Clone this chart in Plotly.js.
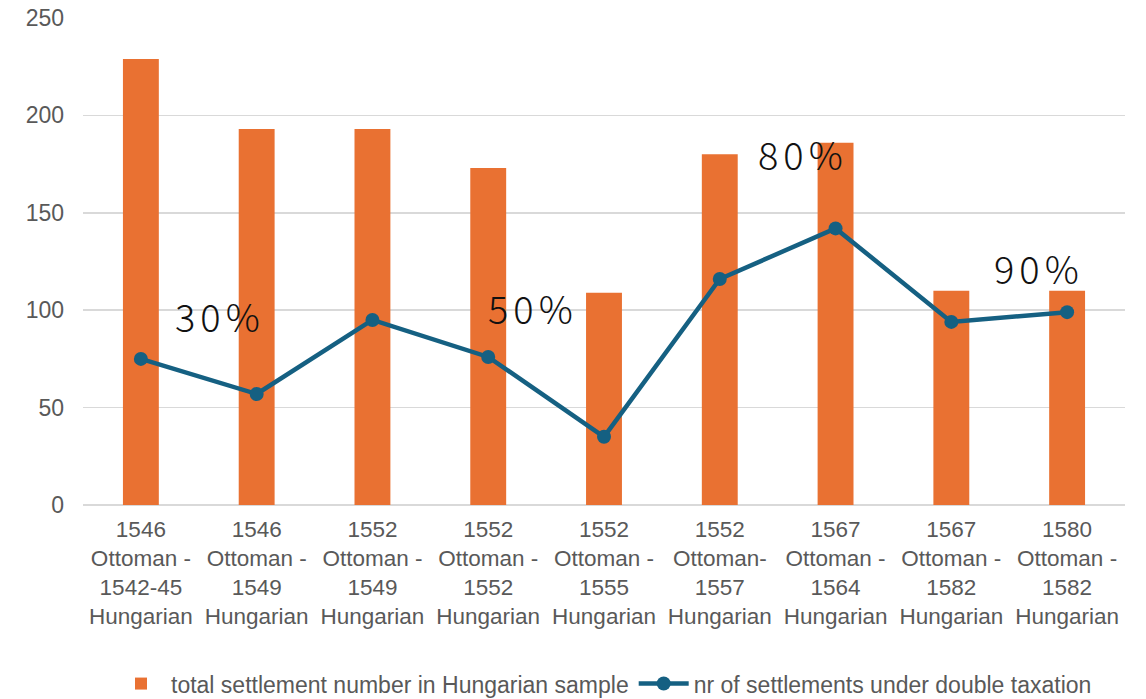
<!DOCTYPE html>
<html><head><meta charset="utf-8">
<script src="https://cdn.plot.ly/plotly-3.0.1.min.js"></script>
<style>body{margin:0;background:#fff}#c{width:1146px;height:699px}</style>
</head><body><div id="c"></div>
<script>
const categories = [
  "1546<br>Ottoman -<br>1542-45<br>Hungarian",
  "1546<br>Ottoman -<br>1549<br>Hungarian",
  "1552<br>Ottoman -<br>1549<br>Hungarian",
  "1552<br>Ottoman -<br>1552<br>Hungarian",
  "1552<br>Ottoman -<br>1555<br>Hungarian",
  "1552<br>Ottoman-<br>1557<br>Hungarian",
  "1567<br>Ottoman -<br>1564<br>Hungarian",
  "1567<br>Ottoman -<br>1582<br>Hungarian",
  "1580<br>Ottoman -<br>1582<br>Hungarian"
];
const totalSettlements = [229, 193, 193, 173, 109, 180, 186, 110, 110];
const doubleTaxation = [75, 57, 95, 76, 35, 116, 142, 94, 99];
const pctLabels = ["30%", "50%", "80%", "90%"];
const pctX = [0.68, 3.39, 5.72, 7.76];
const pctY = [97.5, 101.6, 180.7, 121.7];
const idx = categories.map((_, i) => i);

const traces = [
  {type: "bar", x: idx, y: totalSettlements, name: "total settlement number in Hungarian sample",
   marker: {color: "#E97132"}},
  {type: "scatter", mode: "lines+markers", x: idx, y: doubleTaxation,
   name: "nr of settlements under double taxation",
   line: {color: "#156082", width: 4.5}, marker: {color: "#156082", size: 14}}
];

const annotations = pctLabels.map((t, i) => ({
  x: pctX[i], y: pctY[i], xref: "x", yref: "y", showarrow: false,
  text: '<span style="letter-spacing:5px">' + t + '</span>',
  font: {family: "Noto Sans CJK JP", size: 38, color: "#111", weight: 300}
}));

const layout = {
  width: 1146, height: 699,
  margin: {l: 83, r: 21, t: 18, b: 194},
  paper_bgcolor: "#fff", plot_bgcolor: "#fff",
  font: {family: "Liberation Sans, Arial, sans-serif", size: 23, color: "#595959"},
  bargap: 0.69,
  showlegend: true,
  legend: {orientation: "h", x: 0.5, xanchor: "center", xref: "paper",
           y: 0.022, yref: "container", yanchor: "middle",
           font: {size: 23, color: "#595959"}, itemwidth: 50, traceorder: "normal"},
  xaxis: {tickmode: "array", tickvals: idx, ticktext: categories, range: [-0.5, 8.5],
          showgrid: false, zeroline: false, showline: false, ticks: "", automargin: false,
          ticklabelstandoff: 8,
          tickfont: {size: 22.5, color: "#595959"}, fixedrange: true},
  yaxis: {range: [0, 250], dtick: 50, showgrid: true, gridcolor: "#D9D9D9", gridwidth: 1.5,
          zeroline: true, zerolinecolor: "#D9D9D9", zerolinewidth: 1.5, automargin: false,
          ticks: "", ticklabelstandoff: 18, tickfont: {size: 23, color: "#595959"}},
  annotations: annotations
};
Plotly.newPlot("c", traces, layout, {displayModeBar: false, staticPlot: true});
</script></body></html>
